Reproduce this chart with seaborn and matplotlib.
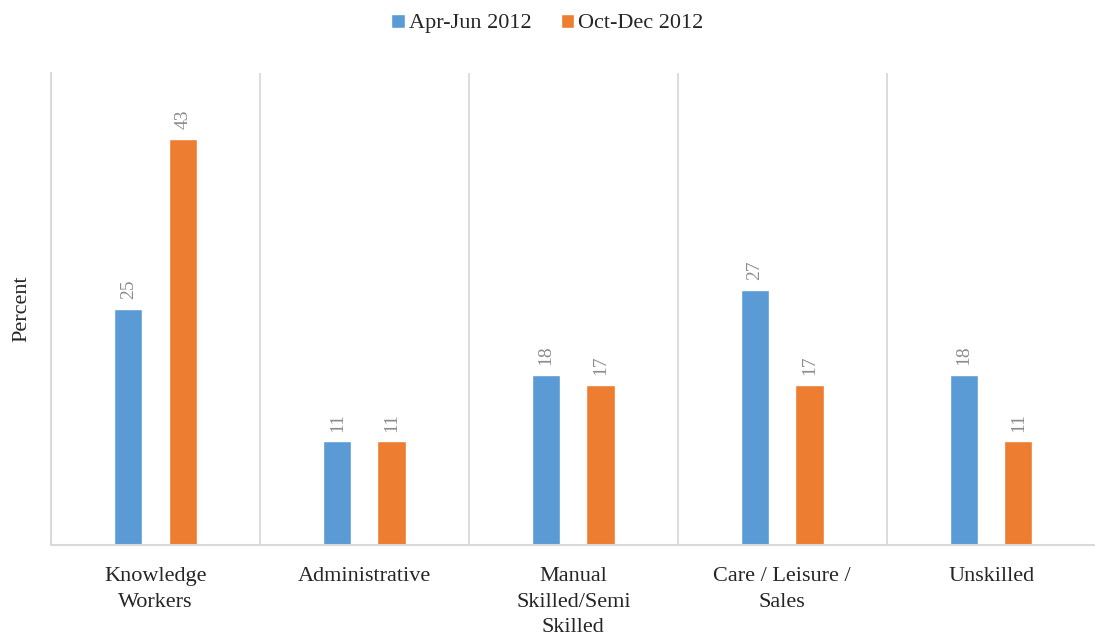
import matplotlib
matplotlib.use('Agg')
import matplotlib.pyplot as plt
import pandas as pd
import seaborn as sns

# chart data
categories = ["Knowledge Workers", "Administrative", "Manual Skilled/Semi Skilled",
              "Care / Leisure / Sales", "Unskilled"]
tick_labels = ["Knowledge\nWorkers", "Administrative", "Manual\nSkilled/Semi\nSkilled",
               "Care / Leisure /\nSales", "Unskilled"]
periods = ["Apr-Jun 2012", "Oct-Dec 2012"]
apr_jun = [25, 11, 18, 27, 18]
oct_dec = [43, 11, 17, 17, 11]

colors = ["#5B9BD5", "#ED7D31"]
grid_color = "#D9D9D9"


def main():
    sns.set_style("white")
    plt.rcParams['font.family'] = ['Liberation Serif', 'DejaVu Serif']

    df = pd.DataFrame({
        "category": categories * 2,
        "period": [periods[0]] * len(categories) + [periods[1]] * len(categories),
        "value": apr_jun + oct_dec,
    })

    fig = plt.figure(figsize=(10.95, 6.36), dpi=100)
    ax = fig.add_axes([0.0466, 0.143, 0.954, 0.742])

    sns.barplot(data=df, x="category", y="value", hue="period", order=categories,
                hue_order=periods, palette=colors, width=0.52, gap=0.48,
                saturation=1, ax=ax, legend=True)

    # data labels, rotated like the original
    for cont in ax.containers:
        ax.bar_label(cont, fmt="%d", rotation=90, padding=7, fontsize=14,
                     color="#8C8C8C")

    ax.set_ylim(0, 50)
    ax.set_xlim(-0.5, len(categories) - 0.5)
    ax.set_yticks([])
    ax.set_ylabel("Percent", fontsize=16, labelpad=14)
    ax.set_xlabel("")
    ax.set_xticks(range(len(categories)))
    ax.set_xticklabels(tick_labels, fontsize=16, linespacing=1.45)
    ax.tick_params(axis='x', length=0, pad=16)

    # category separators
    for i in range(len(categories)):
        ax.axvline(i + 0.5, color=grid_color, lw=1.3, zorder=0)

    for side in ["top", "right"]:
        ax.spines[side].set_visible(False)
    for side in ["left", "bottom"]:
        ax.spines[side].set_color(grid_color)
        ax.spines[side].set_linewidth(1.5)

    handles, labels = ax.get_legend_handles_labels()
    ax.get_legend().remove()
    fig.legend(handles, labels, loc="center", bbox_to_anchor=(0.5, 0.963), ncol=2,
               frameon=False, fontsize=16, handlelength=0.6, handleheight=0.6,
               handletextpad=0.2, columnspacing=1.3)

    fig.savefig("out.png", dpi=100)


if __name__ == '__main__':
    main()
